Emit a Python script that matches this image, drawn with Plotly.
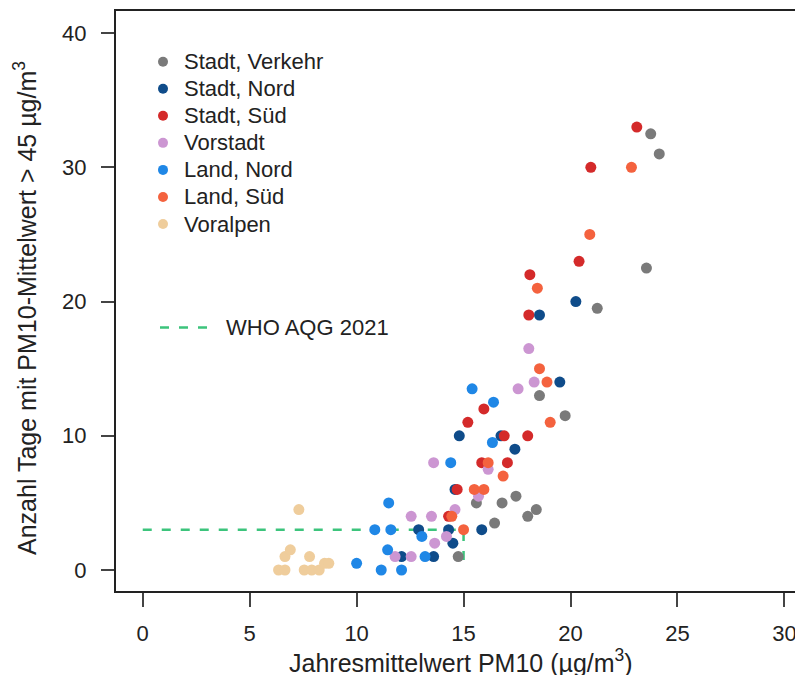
import plotly.graph_objects as go

groups = ["Stadt, Verkehr", "Stadt, Nord", "Stadt, Süd", "Vorstadt", "Land, Nord", "Land, Süd", "Voralpen"]
colors = ["#7a7a7a", "#0f4c8a", "#d42a2a", "#cc96d2", "#1f87e6", "#f4623e", "#efcd9c"]

verkehr_x = [14.75, 15.6, 16.45, 16.8, 17.45, 18.0, 18.4, 18.55, 19.75, 21.25, 23.55, 23.75, 24.15]
verkehr_y = [1, 5, 3.5, 5, 5.5, 4, 4.5, 13, 11.5, 19.5, 22.5, 32.5, 31]

stadt_nord_x = [12.1, 13.6, 12.9, 14.3, 15.85, 14.5, 14.6, 14.8, 16.75, 17.4, 18.55, 19.5, 20.25]
stadt_nord_y = [1, 1, 3, 3, 3, 2, 6, 10, 10, 9, 19, 14, 20]

stadt_sued_x = [14.3, 14.7, 15.85, 15.2, 15.95, 16.9, 18.0, 17.05, 18.05, 18.1, 20.4, 20.95, 23.1]
stadt_sued_y = [4, 6, 8, 11, 12, 10, 10, 8, 19, 22, 23, 30, 33]

vorstadt_x = [11.8, 12.55, 12.55, 13.5, 13.65, 13.6, 14.2, 14.6, 15.7, 16.15, 17.55, 18.05, 18.3]
vorstadt_y = [1, 1, 4, 4, 2, 8, 2.5, 4.5, 5.5, 7.5, 13.5, 16.5, 14]

land_nord_x = [10.0, 11.15, 12.1, 11.45, 13.2, 10.85, 11.6, 13.05, 11.5, 14.4, 15.4, 16.35, 16.4]
land_nord_y = [0.5, 0, 0, 1.5, 1, 3, 3, 2.5, 5, 8, 13.5, 9.5, 12.5]

land_sued_x = [14.45, 15.0, 15.5, 15.95, 16.15, 16.85, 18.55, 18.9, 19.05, 18.45, 20.9, 22.85]
land_sued_y = [4, 3, 6, 6, 8, 7, 15, 14, 11, 21, 25, 30]

voralpen_x = [6.35, 6.65, 6.65, 6.9, 7.3, 7.55, 7.8, 7.9, 8.25, 8.5, 8.7]
voralpen_y = [0, 0, 1.0, 1.5, 4.5, 0, 1.0, 0, 0, 0.5, 0.5]

who_label = "WHO AQG 2021"
who_x = [0, 15, 15]
who_y = [3, 3, 0]

x_ticks = [0, 5, 10, 15, 20, 25, 30]
y_ticks = [0, 10, 20, 30, 40]

x_title = "Jahresmittelwert PM10 (µg/m<sup>3</sup>)"
y_title = "Anzahl Tage mit PM10-Mittelwert > 45 µg/m<sup>3</sup>"

series_x = [verkehr_x, stadt_nord_x, stadt_sued_x, vorstadt_x, land_nord_x, land_sued_x, voralpen_x]
series_y = [verkehr_y, stadt_nord_y, stadt_sued_y, vorstadt_y, land_nord_y, land_sued_y, voralpen_y]

FONT = "Liberation Sans, Arial, sans-serif"
TXT = "#222222"
WHO_COL = "#3cc47c"

# the page body has an 8px margin; the figure is sized to fit the window
OFF = 8
W, H = 803 - OFF, 675 - OFF
ML, MT, MR = 116 - OFF, 11 - OFF, 0
MB = H - (591 - OFF)
PW, PH = W - ML - MR, H - MT - MB


def px_x(px):
    # page pixel -> paper fraction
    return (px - OFF - ML) / PW


def px_y(py):
    return (H - MB - (py - OFF)) / PH


fig = go.Figure()

fig.add_trace(go.Scatter(
    x=who_x, y=who_y, mode="lines", name=who_label, showlegend=False,
    line=dict(color=WHO_COL, width=2.5, dash="9px,10px"),
))

for name, col, xs, ys in zip(groups, colors, series_x, series_y):
    fig.add_trace(go.Scatter(
        x=xs, y=ys, mode="markers", name=name, showlegend=False,
        marker=dict(color=col, size=11, line=dict(width=0)),
    ))

shapes = []
annotations = []

# legend keys + labels
for i, (name, col) in enumerate(zip(groups, colors)):
    cy = px_y(61.7 + 27.05 * i)
    shapes.append(dict(
        type="circle", xref="paper", yref="paper",
        xsizemode="pixel", ysizemode="pixel",
        xanchor=px_x(163), yanchor=cy, x0=-5, x1=5, y0=-5, y1=5,
        fillcolor=col, line=dict(width=0),
    ))
    annotations.append(dict(
        text=name, xref="paper", yref="paper", x=px_x(182), y=cy,
        xanchor="left", yanchor="middle", showarrow=False,
        font=dict(family=FONT, size=22, color=TXT),
    ))

# WHO legend entry
shapes.append(dict(
    type="line", xref="paper", yref="paper",
    x0=px_x(160), x1=px_x(207), y0=px_y(327.5), y1=px_y(327.5),
    line=dict(color=WHO_COL, width=2.5, dash="9px,10px"),
))
annotations.append(dict(
    text=who_label, xref="paper", yref="paper", x=px_x(224), y=px_y(327.5),
    xanchor="left", yanchor="middle", showarrow=False,
    font=dict(family=FONT, size=22, color=TXT),
))

# axis titles
annotations.append(dict(
    text=x_title, xref="paper", yref="paper", x=px_x(461), y=px_y(661),
    xanchor="center", yanchor="middle", showarrow=False,
    font=dict(family=FONT, size=25, color=TXT),
))
annotations.append(dict(
    text=y_title, xref="paper", yref="paper", x=px_x(25), y=px_y(308),
    xanchor="center", yanchor="middle", showarrow=False, textangle=-90,
    font=dict(family=FONT, size=25, color=TXT),
))

fig.update_layout(
    width=W, height=H,
    margin=dict(l=ML, r=MR, t=MT, b=MB),
    paper_bgcolor="white", plot_bgcolor="white",
    font=dict(family=FONT, color=TXT, size=22),
    showlegend=False,
    shapes=shapes,
    annotations=annotations,
    xaxis=dict(
        range=[-1.25, 30.87], tickvals=x_ticks, ticktext=[str(v) for v in x_ticks],
        showgrid=False, zeroline=False, automargin=False,
        showline=True, linecolor="#222222", linewidth=2, mirror=True,
        ticks="outside", ticklen=14, tickwidth=1.5, tickcolor="#444444",
        tickfont=dict(size=22, family=FONT, color=TXT), ticklabelstandoff=8,
    ),
    yaxis=dict(
        range=[-1.565, 41.65], tickvals=y_ticks, ticktext=[str(v) for v in y_ticks],
        showgrid=False, zeroline=False, automargin=False,
        showline=True, linecolor="#222222", linewidth=2, mirror=False,
        ticks="outside", ticklen=13, tickwidth=1.5, tickcolor="#444444",
        tickfont=dict(size=22, family=FONT, color=TXT), ticklabelstandoff=10,
    ),
)

fig.write_html("out.html")
